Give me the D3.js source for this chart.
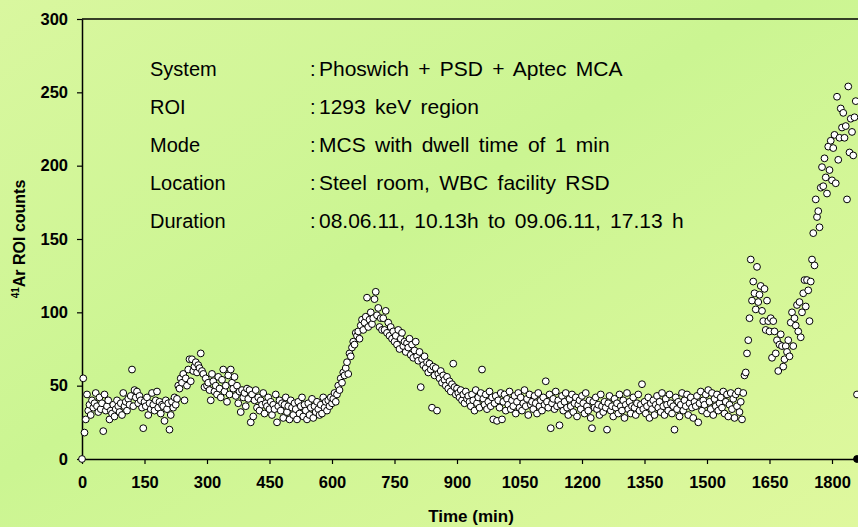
<!DOCTYPE html>
<html>
<head>
<meta charset="utf-8">
<title>41Ar ROI counts</title>
<script src="https://d3js.org/d3.v7.min.js"></script>
<style>
  body{margin:0;}
  svg{display:block;font-family:Arial,"Liberation Sans",sans-serif;}
</style>
</head>
<body>
<div id="graph-container"></div>
<script>

// MCS counts, one reading every 3 min, starting at t = 3 min
var dwellStep = 3;
var counts = [
  55, 18, 27, 44, 33, 37, 30, 40, 35, 38,
  45, 36, 32, 42, 34, 38, 19, 44, 33, 36,
  40, 27, 33, 31, 37, 29, 34, 40, 36, 32,
  38, 30, 45, 36, 39, 33, 41, 37, 43, 61,
  36, 47, 42, 46, 38, 43, 40, 35, 21, 39,
  36, 42, 30, 38, 34, 45, 37, 33, 40, 46,
  35, 39, 31, 37, 36, 26, 40, 34, 38, 20,
  30, 39, 35, 42, 37, 41, 50, 48, 55, 52,
  58, 40, 55, 50, 61, 68, 53, 68, 60, 63,
  66, 59, 64, 62, 72, 60, 58, 49, 55, 50,
  52, 47, 40, 58, 53, 46, 50, 44, 56, 48,
  42, 54, 61, 46, 50, 39, 57, 44, 61, 52,
  48, 56, 43, 50, 38, 46, 32, 47, 42, 45,
  36, 48, 41, 47, 25, 44, 29, 40, 47, 35,
  42, 33, 40, 37, 45, 31, 38, 36, 42, 34,
  39, 30, 37, 34, 44, 25, 36, 40, 33, 38,
  28, 37, 42, 32, 36, 27, 40, 35, 30, 38,
  34, 27, 39, 31, 36, 42, 29, 37, 33, 27,
  38, 30, 35, 41, 28, 36, 32, 39, 34, 30,
  37, 31, 42, 35, 39, 33, 40, 36, 42, 38,
  41, 45, 39, 44, 50, 47, 55, 52, 59, 57,
  62, 66, 58, 72, 70, 76, 80, 78, 86, 84,
  87, 82, 91, 95, 88, 93, 97, 110, 90, 95,
  100, 92, 96, 109, 114, 98, 103, 90, 96, 88,
  96, 88, 101, 86, 93, 84, 90, 82, 87, 80,
  84, 78, 88, 75, 82, 86, 77, 80, 73, 79,
  76, 82, 71, 78, 69, 74, 80, 70, 67, 73,
  49, 68, 64, 70, 62, 66, 59, 65, 61, 35,
  63, 57, 62, 33, 58, 55, 60, 52, 57, 54,
  50, 56, 48, 53, 46, 51, 65, 49, 44, 48,
  45, 42, 47, 40, 44, 38, 46, 41, 43, 39,
  36, 44, 40, 33, 47, 38, 42, 35, 45, 61,
  41, 37, 44, 34, 39, 46, 36, 42, 27, 38,
  43, 26, 40, 35, 45, 27, 39, 44, 33, 41,
  37, 46, 34, 40, 36, 43, 31, 39, 45, 35,
  42, 33, 38, 47, 36, 41, 30, 44, 37, 39,
  34, 43, 38, 31, 45, 36, 40, 33, 42, 37,
  53, 39, 35, 44, 21, 38, 41, 34, 46, 36,
  40, 23, 37, 43, 33, 39, 45, 35, 30, 41,
  36, 44, 32, 38, 42, 29, 37, 40, 34, 43,
  38, 31, 45, 36, 33, 40, 28, 21, 39, 35,
  42, 34, 37, 30, 44, 36, 32, 39, 35, 20,
  38, 43, 33, 36, 29, 41, 35, 38, 31, 44,
  36, 33, 40, 28, 37, 45, 34, 39, 31, 36,
  42, 35, 30, 38, 44, 33, 37, 51, 34, 39,
  31, 36, 42, 28, 38, 34, 40, 30, 37, 43,
  35, 39, 32, 45, 36, 30, 41, 37, 33, 44,
  38, 31, 36, 20, 42, 34, 39, 29, 37, 45,
  33, 40, 36, 44, 30, 38, 42, 35, 28, 39,
  36, 43, 25, 38, 46, 33, 40, 37, 44, 31,
  47, 39, 34, 45, 30, 41, 36, 44, 33, 38,
  42, 35, 46, 31, 39, 44, 29, 37, 45, 34,
  41, 28, 44, 36, 46, 32, 39, 27, 45, 57,
  59, 72, 81, 96, 136, 108, 121, 113, 102, 131,
  107, 112, 118, 101, 94, 116, 88, 108, 94, 87,
  96, 69, 94, 87, 72, 81, 60, 78, 85, 77,
  63, 68, 77, 73, 81, 70, 93, 100, 77, 96,
  91, 105, 87, 107, 83, 100, 113, 122, 104, 122,
  115, 94, 121, 136, 154, 132, 177, 165, 169, 158,
  185, 199, 186, 205, 192, 181, 213, 197, 217, 190,
  212, 221, 188, 247, 204, 219, 239, 226, 236, 219,
  227, 177, 254, 209, 232, 223, 207, 233, 244, 44
];
var startPoint = [0, 0];      // [min, counts]
var endPoint = [1860, 0];

var xTicks = [0, 150, 300, 450, 600, 750, 900, 1050, 1200, 1350, 1500, 1650, 1800];
var yTicks = [0, 50, 100, 150, 200, 250, 300];

var infoLabels = ['System', 'ROI', 'Mode', 'Location', 'Duration'];
var infoValues = [
  'Phoswich + PSD + Aptec MCA',
  '1293 keV region',
  'MCS with dwell time of 1 min',
  'Steel room, WBC facility RSD',
  '08.06.11, 10.13h to 09.06.11, 17.13 h'
];

var W = 858, H = 527;
var margin = {top: 19, right: 1, bottom: 68, left: 82};

var xScale = d3.scaleLinear().domain([0, 1860]).range([margin.left, W - margin.right]);
var yScale = d3.scaleLinear().domain([0, 300]).range([H - margin.bottom, margin.top]);

var svg = d3.select('#graph-container').append('svg')
  .attr('width', W)
  .attr('height', H);

var grad = svg.append('defs').append('linearGradient')
  .attr('id', 'bg')
  .attr('x1', '0%').attr('y1', '0%')
  .attr('x2', '100%').attr('y2', '100%');
grad.append('stop').attr('offset', '0%').attr('stop-color', '#d9f79f');
grad.append('stop').attr('offset', '45%').attr('stop-color', '#cbf592');
grad.append('stop').attr('offset', '100%').attr('stop-color', '#dff89e');

svg.append('rect')
  .attr('width', W).attr('height', H)
  .attr('fill', 'url(#bg)');

// axes
var xAxis = svg.append('g')
  .attr('transform', `translate(0,${yScale(0)})`)
  .call(d3.axisBottom(xScale).tickValues(xTicks).tickFormat(d3.format('d'))
    .tickSize(5).tickPadding(12).tickSizeOuter(0));
var yAxis = svg.append('g')
  .attr('transform', `translate(${xScale(0)},0)`)
  .call(d3.axisLeft(yScale).tickValues(yTicks).tickFormat(d3.format('d'))
    .tickSize(5).tickPadding(9).tickSizeOuter(0));

[xAxis, yAxis].forEach(function(ax){
  ax.select('.domain').attr('stroke', '#000').attr('stroke-width', 1.5);
  ax.selectAll('.tick line').attr('stroke', '#000').attr('stroke-width', 1.2);
  ax.selectAll('.tick text')
    .attr('fill', '#000')
    .style('font-size', '16.5px')
    .style('font-weight', 'bold')
    .style('font-family', 'Arial, "Liberation Sans", sans-serif');
});

// top frame line
svg.append('line')
  .attr('x1', xScale(0)).attr('x2', W)
  .attr('y1', yScale(300)).attr('y2', yScale(300))
  .attr('stroke', '#000').attr('stroke-width', 1.5);

// axis titles
svg.append('text')
  .attr('x', 471)
  .attr('y', 522)
  .attr('text-anchor', 'middle')
  .style('font-size', '17px')
  .style('font-weight', 'bold')
  .text('Time (min)');

var yTitle = svg.append('text')
  .attr('transform', 'translate(25,' + yScale(150) + ') rotate(-90)')
  .attr('text-anchor', 'middle')
  .style('font-size', '16px')
  .style('font-weight', 'bold');
yTitle.append('tspan').attr('font-size', '10px').attr('dy', '-6').text('41');
yTitle.append('tspan').attr('dy', '6').text('Ar ROI counts');

// info block
var info = svg.append('g')
  .style('font-size', '20px');
infoLabels.forEach(function(lab, i){
  var y = 76 + i * 38;
  info.append('text').attr('x', 150).attr('y', y).text(lab);
  info.append('text').attr('x', 310).attr('y', y).text(':');
  info.append('text').attr('x', 319).attr('y', y).text(infoValues[i])
    .style('font-size', '21px')
    .style('word-spacing', '3.5px');
});

// data points
var plotting = counts.map(function(c, i){ return {t: (i + 1) * dwellStep, v: c}; });
var pts = svg.append('g');
pts.selectAll('circle.nodes')
  .data(plotting)
  .enter()
  .append('circle')
  .attr('class', 'nodes')
  .attr('cx', function(d){ return xScale(d.t); })
  .attr('cy', function(d){ return yScale(d.v); })
  .attr('r', 3.4)
  .attr('fill', '#fff')
  .attr('stroke', '#000')
  .attr('stroke-width', 1);

pts.append('circle')
  .attr('cx', xScale(startPoint[0])).attr('cy', yScale(startPoint[1]))
  .attr('r', 3.4).attr('fill', '#fff').attr('stroke', '#000');
pts.append('circle')
  .attr('cx', xScale(endPoint[0])).attr('cy', yScale(endPoint[1]))
  .attr('r', 3.4).attr('fill', '#000').attr('stroke', '#000');

</script>
</body>
</html>
